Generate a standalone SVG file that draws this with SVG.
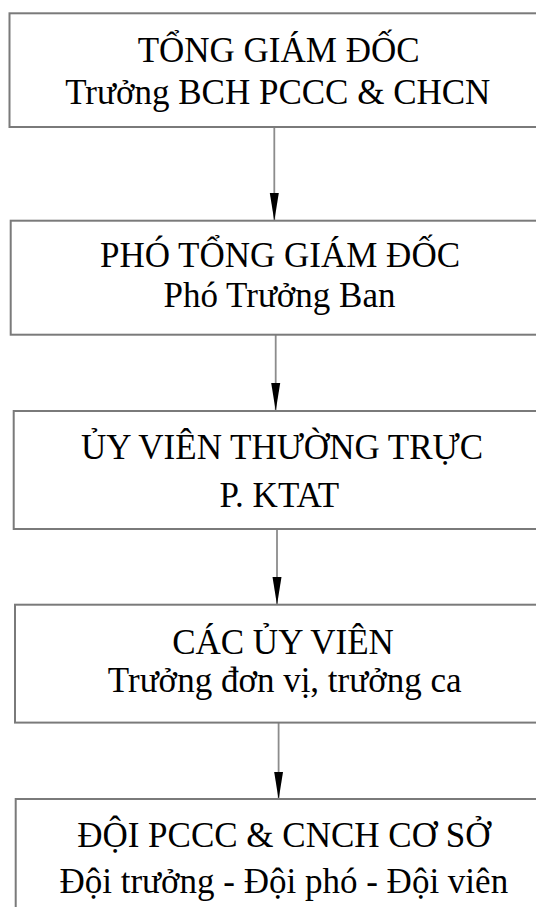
<svg xmlns="http://www.w3.org/2000/svg" width="536" height="907" viewBox="0 0 536 907">
<style>
.box{fill:#fff;stroke:#7a7a7a;stroke-width:2}
.t{font-family:"Liberation Serif","Times New Roman",serif;font-size:35px;fill:#000;text-anchor:middle}
.ln{stroke:#8c8c8c;stroke-width:1.8;fill:none}
</style>
<defs>
<marker id="ah" markerWidth="28" markerHeight="10" refX="27" refY="5" orient="auto" markerUnits="userSpaceOnUse" viewBox="0 0 28 10">
<path d="M0,0.5 L0,9.5 L28,5 Z" fill="#000"/>
</marker>
</defs>
<rect x="0" y="0" width="536" height="907" fill="#fff"/>
<g id="connectors">
<line class="ln" x1="274.3" y1="127" x2="274.3" y2="220" marker-end="url(#ah)"/>
<line class="ln" x1="275.7" y1="335" x2="275.7" y2="410" marker-end="url(#ah)"/>
<line class="ln" x1="277" y1="529" x2="277" y2="604" marker-end="url(#ah)"/>
<line class="ln" x1="278.6" y1="722.6" x2="278.6" y2="798.5" marker-end="url(#ah)"/>
</g>
<g id="n1">
<rect class="box" x="9.5" y="13.3" width="545" height="113.7"/>
<text class="t" x="278.6" y="62.2">TỔNG GIÁM ĐỐC</text>
<text class="t" x="277.8" y="104.3">Trưởng BCH PCCC &amp; CHCN</text>
</g>
<g id="n2">
<rect class="box" x="10.7" y="220.7" width="545" height="114"/>
<text class="t" x="280" y="266.7">PHÓ TỔNG GIÁM ĐỐC</text>
<text class="t" x="279.5" y="306.7">Phó Trưởng Ban</text>
</g>
<g id="n3">
<rect class="box" x="13.7" y="411" width="545" height="118"/>
<text class="t" x="282" y="459.3">ỦY VIÊN THƯỜNG TRỰC</text>
<text class="t" x="279.4" y="507">P. KTAT</text>
</g>
<g id="n4">
<rect class="box" x="15" y="604.7" width="545" height="117.9"/>
<text class="t" x="283" y="654.3">CÁC ỦY VIÊN</text>
<text class="t" x="284.7" y="691.9">Trưởng đơn vị, trưởng ca</text>
</g>
<g id="n5">
<rect class="box" x="15.7" y="799" width="545" height="130"/>
<text class="t" x="283.8" y="846.7">ĐỘI PCCC &amp; CNCH CƠ SỞ</text>
<text class="t" x="283.8" y="892.8">Đội trưởng - Đội phó - Đội viên</text>
</g>
</svg>
